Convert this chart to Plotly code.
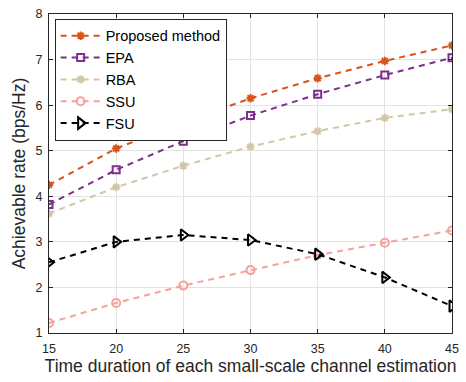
import plotly.graph_objects as go

x_vals = [15, 20, 25, 30, 35, 40, 45]
proposed = [4.25, 5.05, 5.62, 6.15, 6.59, 6.97, 7.31]
epa = [3.82, 4.58, 5.21, 5.77, 6.24, 6.66, 7.04]
rba = [3.62, 4.20, 4.67, 5.09, 5.43, 5.72, 5.91]
ssu = [1.22, 1.66, 2.04, 2.38, 2.71, 2.98, 3.25]
fsu = [2.55, 3.00, 3.15, 3.04, 2.73, 2.22, 1.59]

series = [
    ("Proposed method", proposed, "#D95319", "asterisk-open", 7),
    ("EPA", epa, "#7E2F8E", "square-open", 7),
    ("RBA", rba, "#D3C6A6", "asterisk-open", 7),
    ("SSU", ssu, "#F7A09C", "circle-open", 8),
    ("FSU", fsu, "#000000", "triangle-right-open", 10),
]

fig = go.Figure()
for name, ys, color, sym, size in series:
    fig.add_trace(go.Scatter(
        x=x_vals, y=ys, name=name, mode="lines+markers",
        line=dict(color=color, width=2, dash="6px,5px"),
        marker=dict(symbol=sym, size=size, color=color, line=dict(color=color, width=2)),
    ))

axis_common = dict(
    showgrid=True, gridcolor="#e3e3e3", gridwidth=1,
    showline=True, linecolor="#262626", linewidth=1, mirror="ticks",
    ticks="inside", ticklen=4, tickcolor="#262626",
    tickfont=dict(size=12.5, color="#262626"), zeroline=False,
    ticklabeloverflow="allow",
)

fig.update_layout(
    width=466, height=382,
    margin=dict(l=49, r=7, t=11, b=49),
    paper_bgcolor="white", plot_bgcolor="white",
    font=dict(family="Liberation Sans, Arial, sans-serif", color="#262626"),
    xaxis=dict(range=[15, 45], tickvals=[15, 20, 25, 30, 35, 40, 45],
               ticklabelstandoff=4,
               title=dict(text="Time duration of each small-scale channel estimation",
                          font=dict(size=17.5), standoff=4), **axis_common),
    yaxis=dict(range=[1, 8], tickvals=[1, 2, 3, 4, 5, 6, 7, 8],
               ticklabelstandoff=3,
               title=dict(text="Achievable rate (bps/Hz)", font=dict(size=17.5), standoff=5),
               **axis_common),
    legend=dict(x=0.014, y=0.985, xanchor="left", yanchor="top",
                bgcolor="white", bordercolor="#262626", borderwidth=1,
                font=dict(size=14.5, color="#000000"), tracegroupgap=0,
                itemwidth=40),
    showlegend=True,
)

fig.write_html("out.html", config={"displayModeBar": False},
               post_script="document.body.style.margin='0';document.body.style.overflow='hidden';")
